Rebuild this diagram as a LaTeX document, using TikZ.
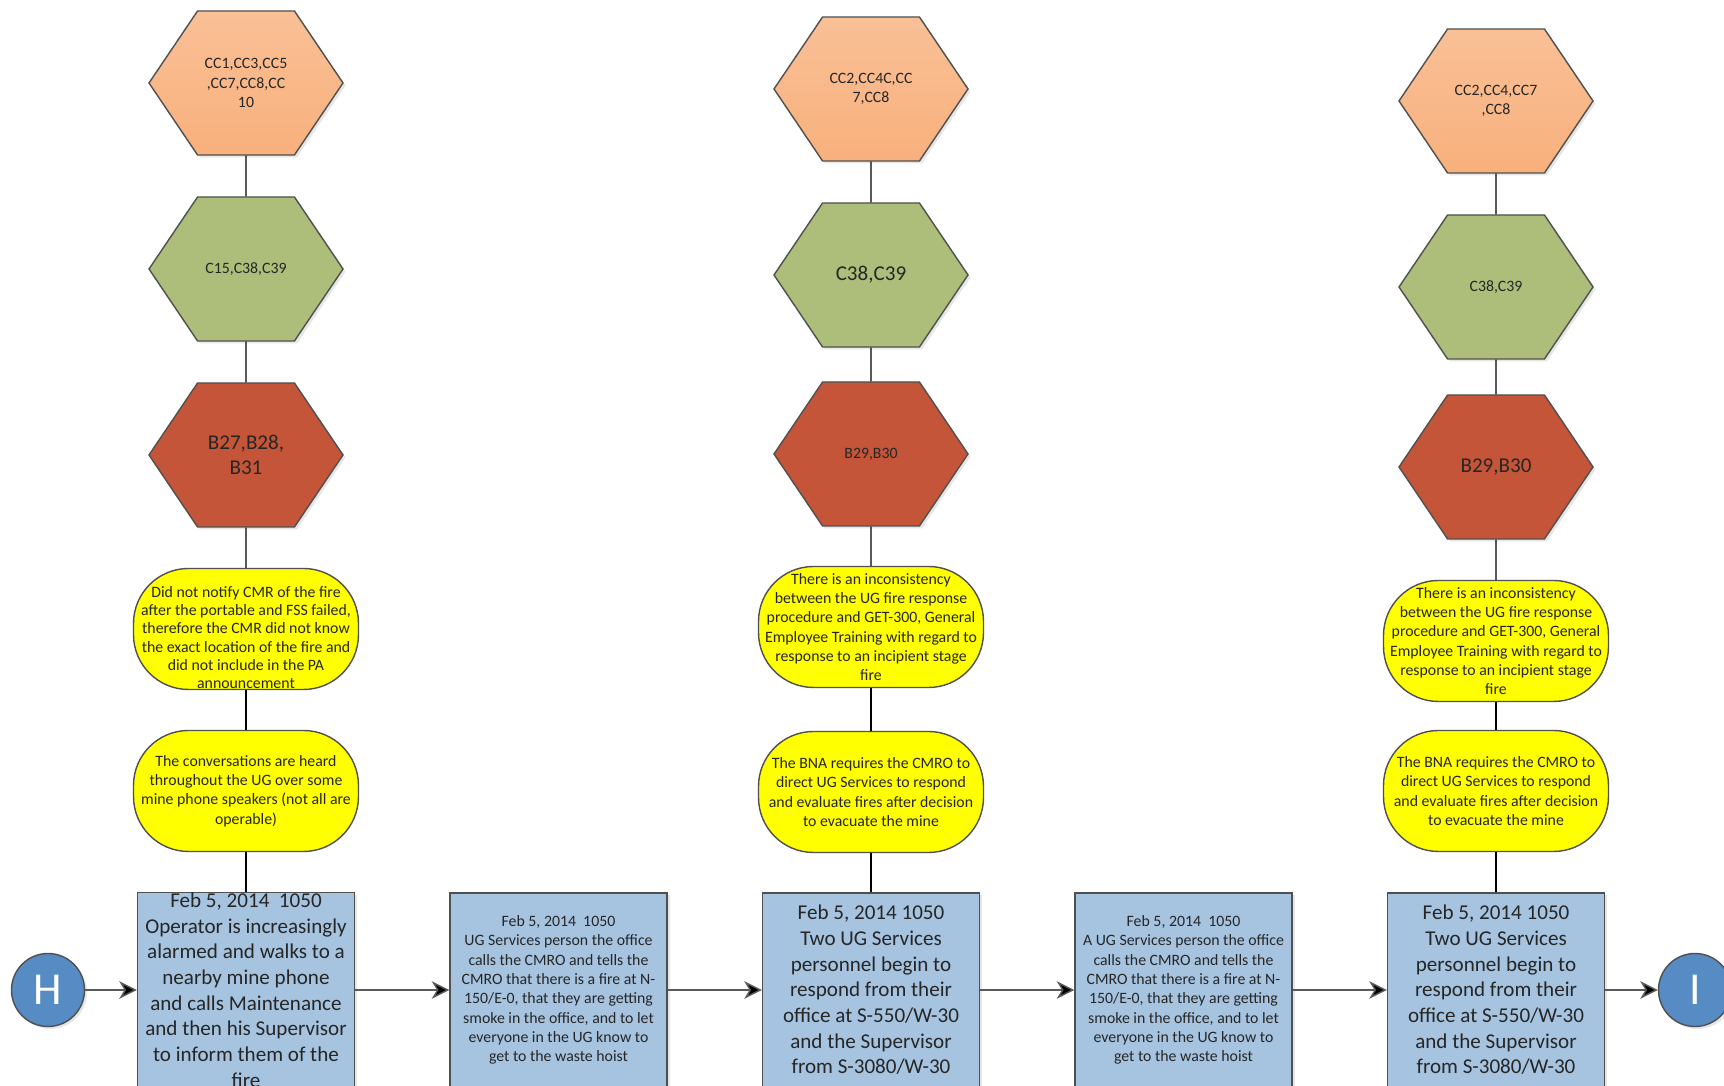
\documentclass[tikz,border=0pt]{standalone}
\usepackage{fontspec}
\setmainfont{Carlito}
\usetikzlibrary{arrows.meta,shapes.symbols,shadows}

\definecolor{hexorange}{RGB}{248,176,124}
\definecolor{hexgreen}{RGB}{173,190,122}
\definecolor{hexred}{RGB}{197,85,56}
\definecolor{ovalyellow}{RGB}{255,255,0}
\definecolor{boxblue}{RGB}{166,196,224}
\definecolor{circblue}{RGB}{86,139,196}
\definecolor{bordergrey}{RGB}{80,80,80}
\definecolor{arrowgrey}{RGB}{90,90,90}
\definecolor{textdark}{RGB}{38,38,38}

\newcommand{\smalltext}{\fontsize{9}{11}\selectfont}
\newcommand{\bigtext}{\fontsize{12}{14.6}\selectfont}

\begin{document}
\begin{tikzpicture}[>={Stealth[length=10pt,width=10pt,inset=3pt]}, node distance=6.25cm]
	\tikzstyle{hexa} = [signal, signal to=west and east, signal pointer angle=112, draw=bordergrey, minimum width=3.88cm, minimum height=2.88cm, inner sep=0pt, align=center, text=textdark, font=\smalltext, drop shadow={opacity=0.2, shadow xshift=0.05cm, shadow yshift=-0.05cm}]
	\tikzstyle{oval} = [draw=bordergrey, fill=ovalyellow, rounded corners=1.1cm, minimum width=4.5cm, minimum height=2.42cm, inner sep=0pt, align=center, text=textdark, font=\smalltext]
	\tikzstyle{event} = [draw=bordergrey, fill=boxblue, minimum width=4.34cm, minimum height=3.88cm, inner sep=0pt, align=center, text=textdark, font=\smalltext, drop shadow={opacity=0.2, shadow xshift=0.05cm, shadow yshift=-0.05cm}]
	\tikzstyle{conn} = [draw=bordergrey, fill=circblue, circle, minimum size=1.46cm, inner sep=0pt, text=white, font=\fontsize{26}{30}\selectfont, drop shadow={opacity=0.2, shadow xshift=0.05cm, shadow yshift=-0.05cm}]

	\useasboundingbox (0,0) rectangle (34.48,21.72);
	\clip (0,0) rectangle (34.48,21.72);

	% time line
	\path[->, draw=arrowgrey, line width=0.8pt]
	node[conn] (h) at (0.96,1.92) {H}
	node[event, node distance=3.96cm, right of=h, font=\bigtext] (b1) {Feb 5, 2014~~1050\\Operator is increasingly\\alarmed and walks to a\\nearby mine phone\\and calls Maintenance\\and then his Supervisor\\to inform them of the\\fire}
	node[event, right of=b1] (b2) {Feb 5, 2014~~1050\\UG Services person the office\\calls the CMRO and tells the\\CMRO that there is a fire at N-\\150/E-0, that they are getting\\smoke in the office, and to let\\everyone in the UG know to\\get to the waste hoist}
	node[event, right of=b2, font=\bigtext] (b3) {Feb 5, 2014 1050\\Two UG Services\\personnel begin to\\respond from their\\office at S-550/W-30\\and the Supervisor\\from S-3080/W-30}
	node[event, right of=b3] (b4) {Feb 5, 2014~~1050\\A UG Services person the office\\calls the CMRO and tells the\\CMRO that there is a fire at N-\\150/E-0, that they are getting\\smoke in the office, and to let\\everyone in the UG know to\\get to the waste hoist}
	node[event, right of=b4, font=\bigtext] (b5) {Feb 5, 2014 1050\\Two UG Services\\personnel begin to\\respond from their\\office at S-550/W-30\\and the Supervisor\\from S-3080/W-30}
	node[conn, node distance=3.98cm, right of=b5] (i) {I}

	(h) edge (b1)
	(b1) edge (b2)
	(b2) edge (b3)
	(b3) edge (b4)
	(b4) edge (b5)
	(b5) edge (i)
	;

	% first column
	\path[-, draw=black, line width=0.8pt]
	node[oval, node distance=3.98cm, above of=b1] (y12) {The conversations are heard\\throughout the UG over some\\mine phone speakers (not all are\\operable)}
	node[oval, node distance=3.24cm, above of=y12, font=\fontsize{9}{10.3}\selectfont] (y11) {\rule{0pt}{16pt}Did not notify CMR of the fire\\after the portable and FSS failed,\\therefore the CMR did not know\\the exact location of the fire and\\did not include in the PA\\announcement}
	node[hexa, fill=hexred, node distance=3.48cm, above of=y11, font=\bigtext] (r1) {B27,B28,\\B31}
	node[hexa, fill=hexgreen, node distance=3.72cm, above of=r1] (g1) {C15,C38,C39}
	node[hexa, top color=hexorange!80!white, bottom color=hexorange, node distance=3.72cm, above of=g1] (o1) {CC1,CC3,CC5\\,CC7,CC8,CC\\10}

	(o1) edge (g1)
	(g1) edge (r1)
	(r1) edge (y11)
	(y11) edge (y12)
	(y12) edge (b1)
	;

	% second column
	\path[-, draw=black, line width=0.8pt]
	node[oval, node distance=3.96cm, above of=b3] (y22) {The BNA requires the CMRO to\\direct UG Services to respond\\and evaluate fires after decision\\to evacuate the mine}
	node[oval, node distance=3.30cm, above of=y22] (y21) {There is an inconsistency\\between the UG fire response\\procedure and GET-300, General\\Employee Training with regard to\\response to an incipient stage\\fire}
	node[hexa, fill=hexred, node distance=3.46cm, above of=y21] (r2) {B29,B30}
	node[hexa, fill=hexgreen, node distance=3.58cm, above of=r2, font=\bigtext] (g2) {C38,C39}
	node[hexa, top color=hexorange!80!white, bottom color=hexorange, node distance=3.72cm, above of=g2] (o2) {CC2,CC4C,CC\\7,CC8}

	(o2) edge (g2)
	(g2) edge (r2)
	(r2) edge (y21)
	(y21) edge (y22)
	(y22) edge (b3)
	;

	% third column
	\path[-, draw=black, line width=0.8pt]
	node[oval, node distance=3.98cm, above of=b5] (y32) {The BNA requires the CMRO to\\direct UG Services to respond\\and evaluate fires after decision\\to evacuate the mine}
	node[oval, node distance=3.00cm, above of=y32] (y31) {There is an inconsistency\\between the UG fire response\\procedure and GET-300, General\\Employee Training with regard to\\response to an incipient stage\\fire}
	node[hexa, fill=hexred, node distance=3.48cm, above of=y31, font=\bigtext] (r3) {B29,B30}
	node[hexa, fill=hexgreen, node distance=3.60cm, above of=r3] (g3) {C38,C39}
	node[hexa, top color=hexorange!80!white, bottom color=hexorange, node distance=3.72cm, above of=g3] (o3) {CC2,CC4,CC7\\,CC8}

	(o3) edge (g3)
	(g3) edge (r3)
	(r3) edge (y31)
	(y31) edge (y32)
	(y32) edge (b5)
	;
\end{tikzpicture}
\end{document}
